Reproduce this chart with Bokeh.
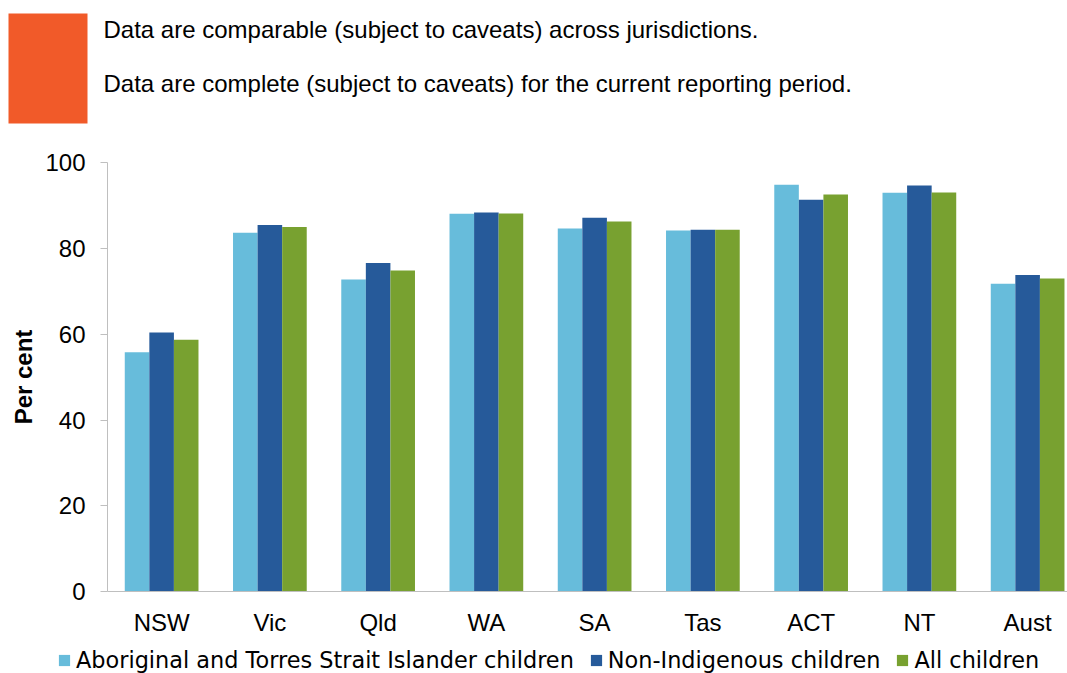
import numpy as np
from bokeh.plotting import figure
from bokeh.models import ColumnDataSource, Range1d, FixedTicker, Legend, LegendItem, LinearAxis
from bokeh.embed import file_html
from bokeh.resources import INLINE
from bokeh.core.properties import value

# ---------------- data ----------------
categories = ["NSW", "Vic", "Qld", "WA", "SA", "Tas", "ACT", "NT", "Aust"]
aboriginal = [55.8, 83.7, 72.8, 88.1, 84.7, 84.2, 94.9, 93.0, 71.8]
non_indigenous = [60.4, 85.5, 76.6, 88.4, 87.2, 84.4, 91.4, 94.7, 73.8]
all_children = [58.7, 85.0, 74.9, 88.2, 86.3, 84.4, 92.6, 93.1, 73.0]
series_names = ["Aboriginal and Torres Strait Islander children",
                "Non-Indigenous children", "All children"]
y_ticks = [0, 20, 40, 60, 80, 100]
banner_lines = ["Data are comparable (subject to caveats) across jurisdictions.",
                "Data are complete (subject to caveats) for the current reporting period."]

# ---------------- styles / geometry ----------------
colors = ["#67BCDB", "#265A9A", "#78A130"]
FONT = "Liberation Sans"
AXIS_GREY = "#BFBFBF"
W, H = 1067, 673            # figure size
AX_X, AX_Y = 107, 591       # axis origin in figure pixels
CAT_PX = 108.25             # pixels per category
UNIT_PX = 4.287             # pixels per percentage point


def dx(px):   # figure pixel -> x data
    return (px - AX_X) / CAT_PX


def dy(py):   # figure pixel -> y data
    return (AX_Y - py) / UNIT_PX


p = figure(width=W, height=H, output_backend="svg", toolbar_location=None,
           x_range=Range1d(dx(0), dx(W)), y_range=Range1d(dy(H), dy(0)),
           x_axis_location=None, y_axis_location=None, min_border=0)
p.grid.visible = False
p.outline_line_color = None

# ---------------- banner ----------------
p.quad(left=[dx(8)], right=[dx(87)], top=[dy(13)], bottom=[dy(123)],
       color="#F15A29", line_color=None)
p.text(x=[dx(103), dx(103)], y=[dy(29), dy(83)], text=banner_lines,
       text_font=value(FONT), text_font_size="24px", text_baseline="alphabetic",
       text_color="black")

# ---------------- bars ----------------
bw = 0.227
offsets = [-bw, 0.0, bw]
centers = np.arange(len(categories)) + 0.5
renderers = []
for vals, off, col in zip([aboriginal, non_indigenous, all_children], offsets, colors):
    src = ColumnDataSource(dict(x=centers + off, top=vals, cat=categories))
    r = p.vbar(x="x", top="top", bottom=0, width=bw, source=src,
               fill_color=col, line_color=None)
    renderers.append(r)

# ---------------- y axis ----------------
yax = LinearAxis(fixed_location=0, bounds=(0, 100), ticker=FixedTicker(ticks=y_ticks))
yax.axis_line_color = AXIS_GREY
yax.major_tick_line_color = AXIS_GREY
yax.major_tick_out = 7
yax.major_tick_in = 0
yax.minor_tick_line_color = None
yax.major_label_text_font = FONT
yax.major_label_text_font_size = "24px"
yax.major_label_text_color = "black"
yax.major_label_standoff = 15
yax.axis_label = "Per cent"
yax.axis_label_text_font = FONT
yax.axis_label_text_font_style = "bold"
yax.axis_label_text_font_size = "24px"
yax.axis_label_text_color = "black"
yax.axis_label_standoff = 5
p.add_layout(yax, "left")

# ---------------- x axis ----------------
xax = LinearAxis(fixed_location=0, bounds=(0, len(categories)),
                 ticker=FixedTicker(ticks=list(centers)))
xax.major_label_overrides = {float(c): name for c, name in zip(centers, categories)}
xax.axis_line_color = AXIS_GREY
xax.major_tick_line_color = None
xax.major_tick_out = 0
xax.major_tick_in = 0
xax.minor_tick_line_color = None
xax.major_label_text_font = FONT
xax.major_label_text_font_size = "24px"
xax.major_label_text_color = "black"
xax.major_label_standoff = 17
p.add_layout(xax, "below")

# ---------------- legend ----------------
legend = Legend(items=[LegendItem(label=n, renderers=[r]) for n, r in zip(series_names, renderers)],
                orientation="horizontal", location=(57, 0),
                glyph_width=14, glyph_height=14, label_standoff=5, spacing=15,
                padding=0, margin=0, border_line_color=None, background_fill_alpha=0,
                label_text_font="DejaVu Sans", label_text_font_size="22.4px",
                label_text_color="black")
p.add_layout(legend)

open("out.html", "w").write(file_html(p, INLINE))
